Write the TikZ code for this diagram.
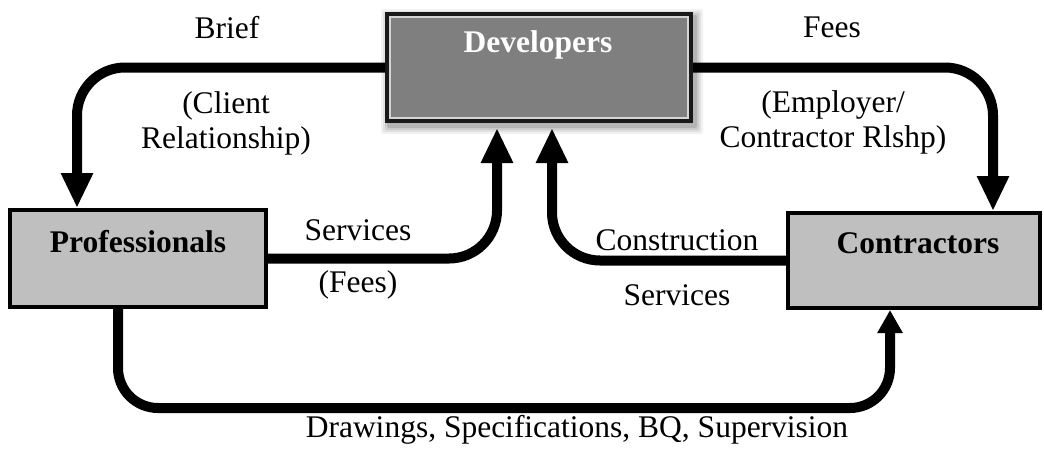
\documentclass[tikz,border=0pt]{standalone}
\usepackage{fontspec}
\setmainfont{Liberation Serif}
\usetikzlibrary{arrows.meta,calc}

\definecolor{boxgray}{HTML}{BFBFBF}
\definecolor{devgray}{HTML}{7F7F7F}
\definecolor{bevel}{HTML}{D4D4D4}

\begin{document}
\begin{tikzpicture}[x=1pt,y=-1pt,
  every node/.style={font=\fontsize{31.5}{35}\selectfont},
  party/.style={draw=black, line width=4pt, fill=boxgray, inner sep=0pt},
  partytext/.style={font=\fontsize{31.5}{35}\selectfont\bfseries},
  lbl/.style={align=center, inner sep=0pt},
  conn/.style={line width=10pt, rounded corners=48pt,
    -{Triangle[length=35pt,width=30pt]}},
  connsmall/.style={line width=10pt, rounded corners=40pt,
    -{Triangle[length=23pt,width=24pt]}}]

\useasboundingbox (0,0) rectangle (1044,448);

% soft shadow under the developers box
\foreach \s/\o in {7/0.05,5/0.07,3/0.09,1/0.12}
  \fill[black,opacity=\o,rounded corners=2pt]
    (385-\s+3,12-\s+4) rectangle (693+\s+3,123+\s+4);

% the three parties
\node[party, draw=black!90, fill=devgray, minimum width=304pt, minimum height=107pt]
  (dev) at (539,67.5) {};
\draw[bevel, line width=2pt]
  ([shift={(5,5)}]dev.north west) rectangle ([shift={(-5,-5)}]dev.south east);
\node[partytext, text=white] (devtxt) at (538,45) {Developers};

\node[party, minimum width=256pt, minimum height=97pt] (prof) at (138,258.5) {};
\node[partytext] (proftxt) at (138,242) {Professionals};

\node[party, minimum width=252pt, minimum height=95pt] (cont) at (914,260.5) {};
\node[partytext] (conttxt) at (918,243) {Contractors};

% relationships
\draw[conn] (dev.west) -| ([xshift=-61pt]prof.north);
\draw[conn] (dev.east) -| ([xshift=79pt]cont.north);
\draw[conn, shorten >=5pt] (prof.east) -| ([xshift=-42pt]dev.south);
\draw[conn, shorten >=5pt] (cont.west) -| ([xshift=13pt]dev.south);

\coordinate (low) at (0,408);
\draw[connsmall] ([xshift=-20pt]prof.south) -- ([xshift=-20pt]prof.south |- low)
  -| ([xshift=-24pt]cont.south);

% labels
\node[lbl] (brief) at (227,28) {Brief};
\node[lbl] (client) at (226,123) {(Client\\Relationship)};
\node[lbl] (fees) at (832,27) {Fees};
\node[lbl] (employer) at (833,122) {(Employer/\\Contractor Rlshp)};
\node[lbl] (serv) at (358,230) {Services};
\node[lbl] (servfees) at (358,285) {(Fees)};
\node[lbl] (constr) at (677,240) {Construction};
\node[lbl] (constrserv) at (677,295) {Services};
\node[lbl] (docs) at (577,430) {Drawings, Specifications, BQ, Supervision};

\end{tikzpicture}
\end{document}
